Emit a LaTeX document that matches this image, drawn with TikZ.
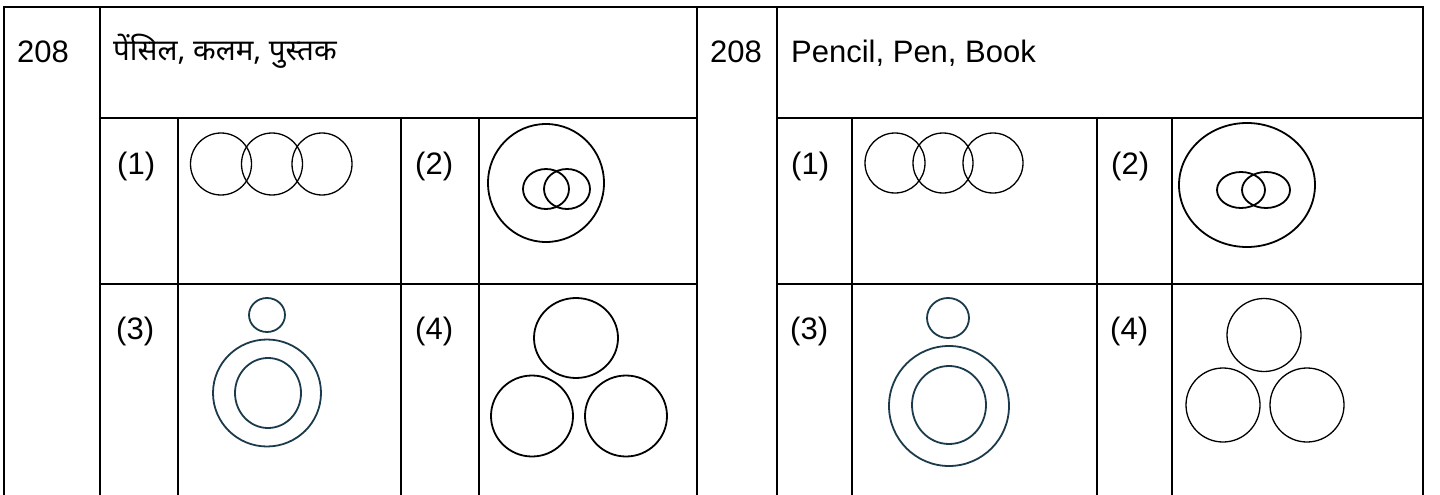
\documentclass[tikz,border=0pt]{standalone}
\usepackage{fontspec}
\setmainfont{Liberation Sans}
\newfontfamily\hindifont[Script=Devanagari]{Noto Sans}
\definecolor{navyline}{HTML}{1B3A4B}
\begin{document}
\begin{tikzpicture}[x=1pt,y=-1pt,
  grid/.style={line width=2.8pt, line cap=rect, line join=miter},
  lbl/.style={anchor=base west, inner sep=0pt, font=\fontsize{31}{37}\selectfont},
  hlbl/.style={anchor=base west, inner sep=0pt, font=\hindifont\fontsize{29.5}{35}\selectfont},
  shp/.style={line width=1.3pt, draw=black},
  shpthick/.style={line width=1.8pt, draw=black},
  shpnavy/.style={line width=1.8pt, draw=navyline}]
\useasboundingbox (0,0) rectangle (1440,495);
% frame
\draw[grid] (4,495) -- (4,7) -- (1423,7) -- (1423,495);
\draw[grid] (100,7) -- (100,495);
\draw[grid] (697,7) -- (697,495);
\draw[grid] (777,7) -- (777,495);
\draw[grid] (100,118) -- (697,118);
\draw[grid] (777,118) -- (1423,118);
\draw[grid] (100,284) -- (697,284);
\draw[grid] (777,284) -- (1423,284);
\foreach \x in {178,401,479,852,1097,1172} \draw[grid] (\x,118) -- (\x,495);
% texts
\node[lbl] (numL) at (17,63) {208};
\node[hlbl] (headL) at (113,61) {पेंसिल, कलम, पुस्तक};
\node[lbl] (numR) at (710,63) {208};
\node[lbl] (headR) at (791,63) {Pencil, Pen, Book};
\node[lbl] (l1L) at (117,174) {(1)};
\node[lbl] (l2L) at (415,174) {(2)};
\node[lbl] (l3L) at (116,339) {(3)};
\node[lbl] (l4L) at (415,339) {(4)};
\node[lbl] (l1R) at (791,174) {(1)};
\node[lbl] (l2R) at (1111,174) {(2)};
\node[lbl] (l3R) at (790,339) {(3)};
\node[lbl] (l4R) at (1110,339) {(4)};
% left option 1
\draw[shp] (221,164) ellipse [x radius=30.5pt, y radius=31pt];
\draw[shp] (272,164) ellipse [x radius=30.5pt, y radius=31pt];
\draw[shp] (322,164) ellipse [x radius=30pt, y radius=31pt];
% left option 2
\draw[shpthick] (546,183) ellipse [x radius=58pt, y radius=59pt];
\draw[shpthick] (546,189) ellipse [x radius=23pt, y radius=20pt];
\draw[shpthick] (567,189) ellipse [x radius=23pt, y radius=20pt];
% left option 3
\draw[shpnavy] (267,315) ellipse [x radius=18pt, y radius=17pt];
\draw[shpnavy] (267,393) ellipse [x radius=54pt, y radius=53.5pt];
\draw[shpnavy] (268,393) ellipse [x radius=33pt, y radius=35pt];
% left option 4
\draw[shpthick] (576,338) ellipse [x radius=42pt, y radius=40pt];
\draw[shpthick] (532,416) ellipse [x radius=41pt, y radius=40.5pt];
\draw[shpthick] (626,416) ellipse [x radius=41pt, y radius=40.5pt];
% right option 1
\draw[shp] (895,163) ellipse [x radius=30pt, y radius=30pt];
\draw[shp] (943,163) ellipse [x radius=30pt, y radius=30pt];
\draw[shp] (993,163) ellipse [x radius=30pt, y radius=30pt];
% right option 2
\draw[shpthick] (1247,185) ellipse [x radius=68pt, y radius=62pt];
\draw[shpthick] (1241,190) ellipse [x radius=24pt, y radius=18pt];
\draw[shpthick] (1266,190) ellipse [x radius=24pt, y radius=18pt];
% right option 3
\draw[shpnavy] (948,318) ellipse [x radius=21pt, y radius=20pt];
\draw[shpnavy] (949,406) ellipse [x radius=60pt, y radius=60pt];
\draw[shpnavy] (949,405) ellipse [x radius=37pt, y radius=39pt];
% right option 4
\draw[shp] (1264,335) ellipse [x radius=37pt, y radius=36.5pt];
\draw[shp] (1223,405) ellipse [x radius=37pt, y radius=37pt];
\draw[shp] (1307,405) ellipse [x radius=37pt, y radius=37pt];
\end{tikzpicture}
\end{document}
